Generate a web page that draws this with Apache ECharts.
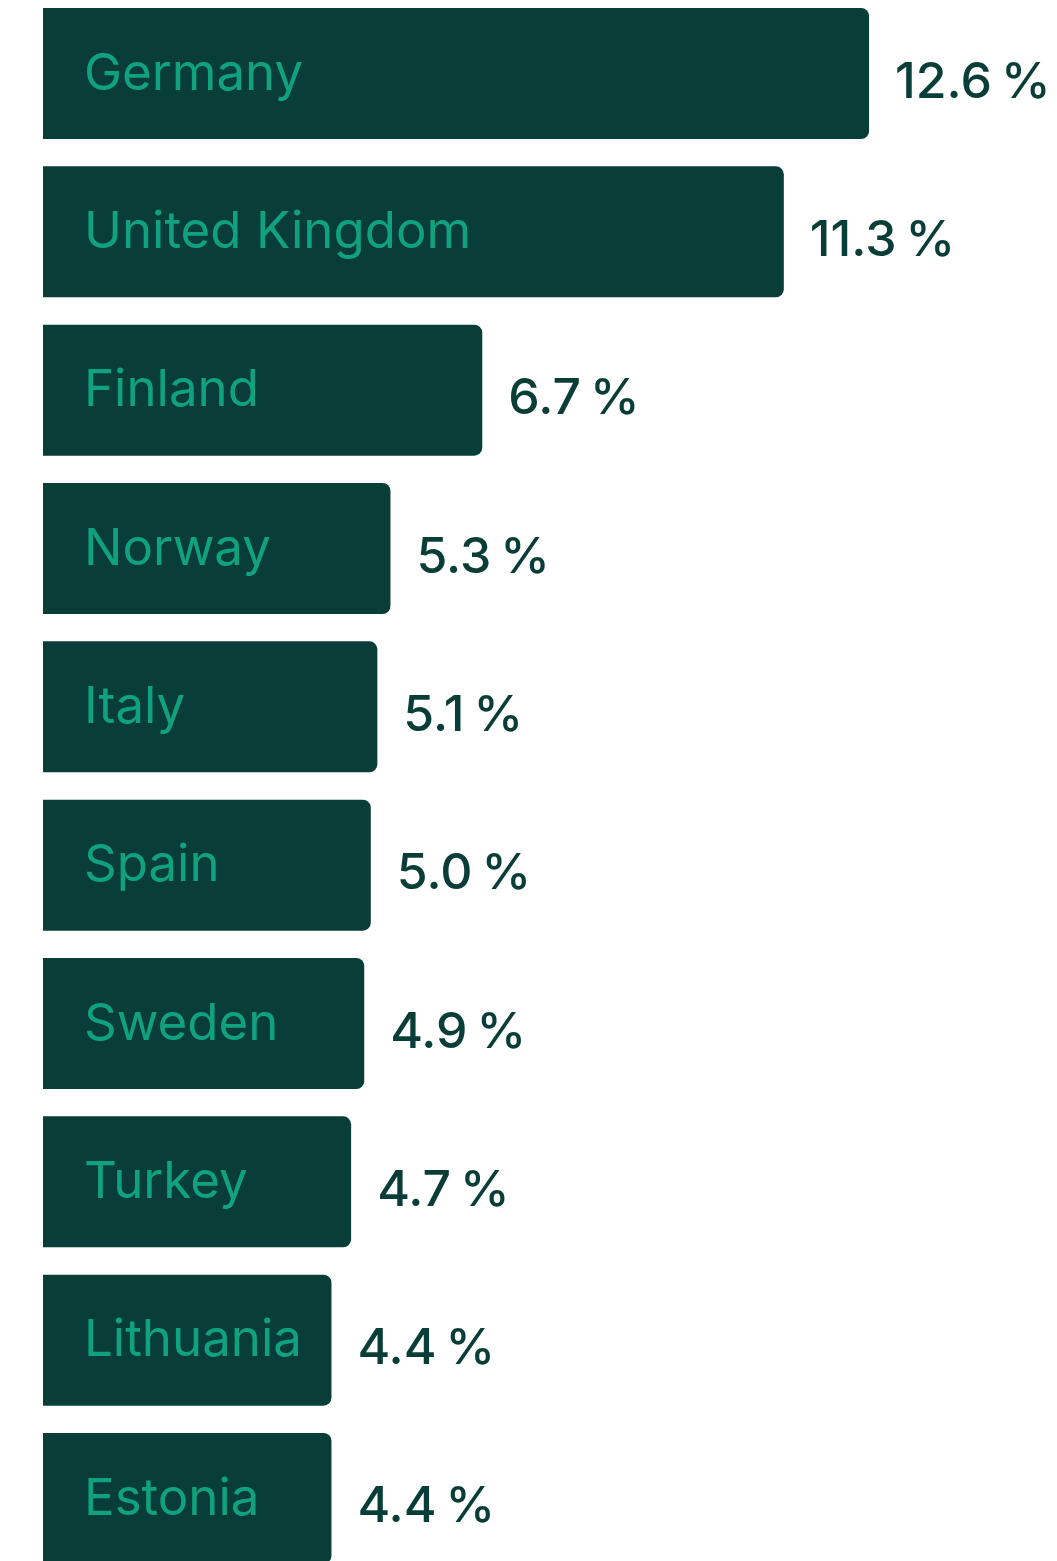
<!DOCTYPE html>
<html>
<head>
<meta charset="utf-8">
<script src="https://cdn.jsdelivr.net/npm/echarts@6/dist/echarts.min.js"></script>
<style>
html,body{margin:0;padding:0;background:#fff;overflow:hidden;width:1057px;height:1561px;}
#chart{position:absolute;left:0;top:-6px;width:1057px;height:1600px;}
</style>
</head>
<body>
<div id="chart"></div>
<script>
const categories = ["Germany","United Kingdom","Finland","Norway","Italy","Spain","Sweden","Turkey","Lithuania","Estonia"];
const values = [12.6,11.3,6.7,5.3,5.1,5.0,4.9,4.7,4.4,4.4];

const barColor = '#093d37';
const nameColor = '#10a27f';

const chart = echarts.init(document.getElementById('chart'), null, {renderer:'canvas'});
const band = 158.33;
chart.setOption({
  animation:false,
  backgroundColor:'#ffffff',
  grid:{left:43, top:0.33, width:983.4, height:band*categories.length},
  xAxis:{type:'value', min:0, max:15, show:false},
  yAxis:{type:'category', data:categories, inverse:true, show:false},
  series:[
    {
      type:'bar',
      data:values,
      barWidth:131,
      itemStyle:{color:barColor, borderRadius:[0,8,8,0]},
      label:{
        show:true, position:'right', distance:26,
        formatter:p=>'{v|'+p.value.toFixed(1)+'}{s| }{v|%}',
        rich:{
          v:{color:barColor, fontFamily:'Inter', fontSize:50, fontWeight:500},
          s:{fontFamily:'Inter', fontSize:32}
        },
        offset:[0,9]
      }
    },
    {
      type:'bar',
      data:values,
      barWidth:131,
      barGap:'-100%',
      itemStyle:{color:'rgba(0,0,0,0)'},
      silent:true,
      label:{
        show:true, position:'insideLeft', distance:41,
        formatter:p=>categories[p.dataIndex],
        color:nameColor, fontFamily:'Inter', fontSize:51, fontWeight:400,
        offset:[0,1]
      }
    }
  ]
});
</script>
</body>
</html>
